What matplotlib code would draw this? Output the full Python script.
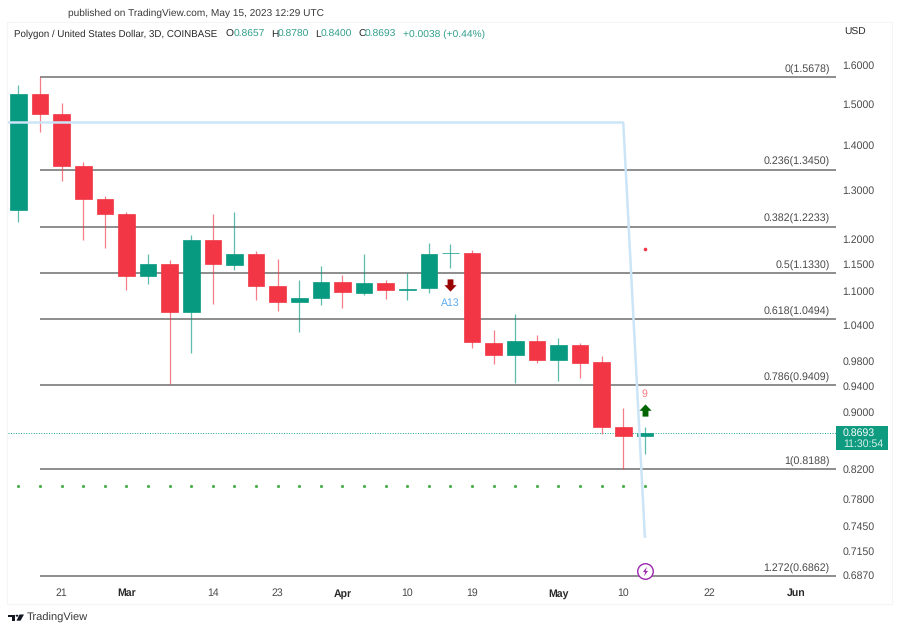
import matplotlib
matplotlib.use('Agg')
import matplotlib.pyplot as plt
from matplotlib.patches import Rectangle, Polygon, Circle
from matplotlib.path import Path

plt.rcParams['font.family'] = ['Liberation Sans', 'DejaVu Sans']
plt.rcParams['text.hinting'] = 'no_hinting'

# ---- data ----
opens  = [1.258,1.524,1.475,1.353,1.281,1.249,1.127,1.150,1.062,1.197,1.149,1.169,1.110,1.080,1.087,
          1.117,1.096,1.115,1.101,1.105,1.171,1.172,1.010,0.990,1.012,0.981,1.006,0.978,0.878,0.8657]
highs  = [1.548,1.568,1.502,1.363,1.287,1.253,1.169,1.157,1.206,1.249,1.253,1.175,1.160,1.120,1.146,
          1.130,1.169,1.120,1.133,1.191,1.189,1.177,1.032,1.059,1.023,1.018,1.010,0.987,0.906,0.8780]
lows   = [1.233,1.432,1.320,1.196,1.182,1.102,1.113,0.943,0.993,1.077,1.138,1.084,1.064,1.027,1.074,
          1.070,1.093,1.085,1.083,1.097,1.142,1.001,0.974,0.945,0.976,0.948,0.952,0.868,0.819,0.8400]
closes = [1.524,1.475,1.353,1.281,1.249,1.127,1.150,1.062,1.197,1.150,1.169,1.110,1.080,1.087,1.117,
          1.098,1.115,1.101,1.104,1.170,1.172,1.011,0.990,1.013,0.981,1.006,0.977,0.878,0.865,0.8693]
candle_index = list(range(len(opens)))

fib_levels = [1.5678, 1.3450, 1.2233, 1.1330, 1.0494, 0.9409, 0.8188, 0.6862]
fib_labels = ['0(1.5678)', '0.236(1.3450)', '0.382(1.2233)', '0.5(1.1330)',
              '0.618(1.0494)', '0.786(0.9409)', '1(0.8188)', '1.272(0.6862)']

blue_x = [-0.49, 28, 29]
blue_y = [1.454, 1.454, 0.7324]
green_dot_price = 0.797
red_dot = (29, 1.179)
down_arrow = (20, 1.111)
up_arrow = (29, 0.9033)
a13_label = (20, 1.078)
nine_label = (29, 0.9275)
bolt_icon = (29, 0.6914)
last_price = 0.8693

ytick_values = [1.6, 1.5, 1.4, 1.3, 1.2, 1.15, 1.1, 1.04, 0.98, 0.94, 0.90, 0.82, 0.78, 0.745, 0.715, 0.687]
xtick_pos = [2, 5, 9, 12, 15, 18, 21, 25, 28, 32, 36]
xtick_labels = ['21', 'Mar', '14', '23', 'Apr', '10', '19', 'May', '10', '22', 'Jun']
month_labels = {'Mar', 'Apr', 'May', 'Jun'}

W, H = 900, 632
RED, GREEN = '#f23645', '#089981'
TEXT = '#4a4a4a'
FS = 7.6

fig = plt.figure(figsize=(W / 100, H / 100), dpi=100, facecolor='white')

def fx(x): return x / W
def fy(y): return 1 - y / H

# panel outline
fig.add_artist(Rectangle((fx(7), fy(604)), 885 / W, 582 / H, transform=fig.transFigure,
                         fc='white', ec='#f5f5f5', lw=0.8, zorder=-5))

ax = fig.add_axes([fx(8), fy(583), 828 / W, 560 / H])
ax.patch.set_alpha(0)
ax.set_yscale('log')
ax.set_xlim(-0.486, 37.85)
ax.set_ylim(0.6783, 1.7144)
for s in ax.spines.values():
    s.set_visible(False)

# fib lines
ax.hlines(fib_levels, 1, 37.85, color='#757575', lw=1.15, zorder=1)
for lv, lb in zip(fib_levels, fib_labels):
    ax.annotate(lb, xy=(1, lv), xycoords=ax.get_yaxis_transform(), xytext=(-4.6, 5.4),
                textcoords='offset points', ha='right', va='center', fontsize=7.7, color=TEXT, zorder=6)

# last price dotted line
ax.axhline(last_price, color='#1aa58c', lw=0.7, ls=(0, (1, 1.6)), zorder=1.5)

# candles
colors = [GREEN if c >= o else RED for o, c in zip(opens, closes)]
ax.vlines(candle_index, lows, highs, colors=colors, lw=0.9, alpha=0.65, zorder=2)
bottoms = [min(o, c) for o, c in zip(opens, closes)]
heights = [abs(o - c) for o, c in zip(opens, closes)]
ax.bar(candle_index, heights, bottom=bottoms, width=0.77, color=colors, edgecolor=colors, lw=0.5, zorder=3)

# green dots
ax.plot(candle_index, [green_dot_price] * len(candle_index), ls='none', marker='o', ms=2.3,
        color='#4caf50', mew=0, zorder=2)

# blue line
ax.plot(blue_x, blue_y, color='#cbe5f7', lw=1.8, zorder=4, solid_joinstyle='round')

# red dot
ax.plot(*red_dot, marker='o', ms=2.6, color=RED, mew=0, zorder=5)

# arrows
arrow_down = Path([(-.48, 1), (.48, 1), (.48, .05), (1, .05), (0, -1), (-1, .05), (-.48, .05), (-.48, 1)], closed=True)
arrow_up = Path([(-.48, -1), (.48, -1), (.48, -.05), (1, -.05), (0, 1), (-1, -.05), (-.48, -.05), (-.48, -1)], closed=True)
ax.plot(*down_arrow, marker=arrow_down, ms=8.8, color='#990000', mew=0, zorder=5)
ax.plot(*up_arrow, marker=arrow_up, ms=8.8, color='#006400', mew=0, zorder=5)
ax.text(*a13_label, 'A13', ha='center', va='center', fontsize=FS, color='#5cabee', zorder=5)
ax.text(*nine_label, '9', ha='center', va='center', fontsize=FS, color='#f7787f', zorder=5)

# bolt icon
bolt = Path([(.3, 1), (-.55, -.12), (-.05, -.12), (-.3, -1), (.55, .12), (.05, .12), (.3, 1)], closed=True)
ax.plot(*bolt_icon, marker='o', ms=11.2, mfc='white', mec='#9c27b0', mew=1.0, zorder=6)
ax.plot(*bolt_icon, marker=bolt, ms=6.8, color='#9c27b0', mew=0, zorder=7)

# ticks
ax.yaxis.tick_right()
ax.set_yticks(ytick_values)
ax.set_yticklabels([f'{v:.4f}' for v in ytick_values])
ax.minorticks_off()
ax.tick_params(axis='y', length=0, pad=4.6, labelsize=FS, labelcolor=TEXT)
ax.set_xticks(xtick_pos)
ax.set_xticklabels(xtick_labels)
ax.tick_params(axis='x', length=0, pad=3.8, labelsize=FS, labelcolor=TEXT)
for t in ax.get_xticklabels():
    if t.get_text() in month_labels:
        t.set_fontweight('bold')
        t.set_color('#2a2a2a')

# header
fig.text(fx(68), fy(13), 'published on TradingView.com, May 15, 2023 12:29 UTC', fontsize=7.25, color='#3a3a3a', va='center')
fig.text(fx(14), fy(34), 'Polygon / United States Dollar, 3D, COINBASE', fontsize=7.0, color='#2a2a2a', va='center')
TEAL = '#2f9e8a'
for x, s, c in [(226, 'O', '#2a2a2a'), (233.5, '0.8657', TEAL), (271, 'H', '#2a2a2a'), (278, '0.8780', TEAL),
                (315, 'L', '#2a2a2a'), (321, '0.8400', TEAL), (358, 'C', '#2a2a2a'), (365, '0.8693', TEAL),
                (403, '+0.0038 (+0.44%)', TEAL)]:
    fig.text(fx(x), fy(34), s, fontsize=7.4, color=c, va='center')
fig.text(fx(844), fy(32), 'USD', fontsize=7.4, color='#2a2a2a', va='center')

# price tag
fig.add_artist(Rectangle((fx(836), fy(450)), 52 / W, 24 / H, transform=fig.transFigure, fc='#0e9b80', ec='none'))
fig.text(fx(843), fy(432.7), '0.8693', fontsize=FS, color='white', va='center')
fig.text(fx(843), fy(444), '11:30:54', fontsize=FS, color='#d5efe9', va='center')

# logo
DARK = '#131722'
def poly(pts):
    fig.add_artist(Polygon([(fx(x), fy(y)) for x, y in pts], closed=True, transform=fig.transFigure, fc=DARK, ec='none'))
poly([(8, 614.5), (15, 614.5), (15, 620.7), (11.5, 620.7), (11.5, 617), (8, 617)])
poly([(19.5, 614.5), (24, 614.5), (20.5, 620.7), (16.5, 620.7)])
fig.add_artist(Circle((fx(17), fy(615.7)), 1.4 / W, transform=fig.transFigure, fc=DARK, ec='none'))
fig.text(fx(27), fy(618), 'TradingView', fontsize=8.0, color='#3a3a3a', va='center')

fig.savefig('out.png', dpi=100)
